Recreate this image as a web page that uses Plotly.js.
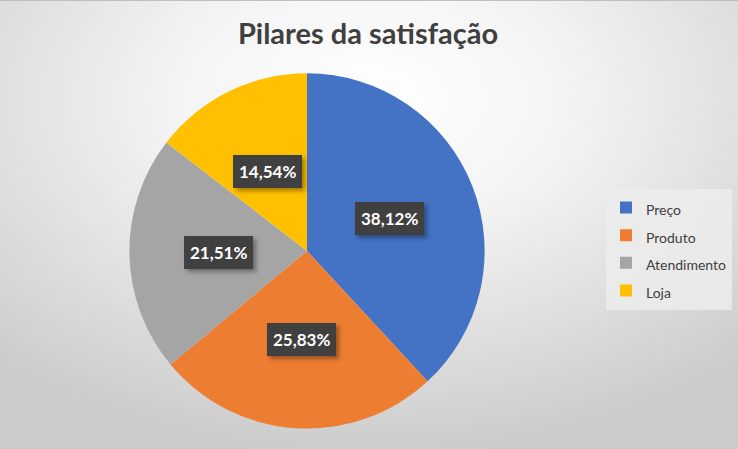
<!DOCTYPE html>
<html>
<head>
<meta charset="utf-8">
<script src="https://cdn.plot.ly/plotly-3.0.1.min.js"></script>
<style>
  html, body { margin: 0; padding: 0; }
  #chart {
    width: 738px; height: 449px; box-sizing: border-box;
    border-top: 1px solid #bfbfbf;
    background: radial-gradient(ellipse 75% 80% at 50% 22%, #ffffff 0%, #f4f4f4 35%, #dedede 70%, #cbcbcb 100%);
  }
  #chart g.annotation rect.bg { filter: drop-shadow(3px 3px 2px rgba(0,0,0,0.35)); }
</style>
</head>
<body>
<div id="chart"></div>
<script>
const categories = ['Preço', 'Produto', 'Atendimento', 'Loja'];
const values = [38.12, 25.83, 21.51, 14.54];
const colors = ['#4472C4', '#ED7D31', '#A5A5A5', '#FFC000'];
const chartTitle = 'Pilares da satisfação';

const W = 738, H = 449;
const cx = 307, cy = 250.5, R = 178;
const labR = 89;
const fontFam = 'Lato, "Open Sans", sans-serif';

const total = values.reduce((a, b) => a + b, 0);
const annotations = [];
let cum = 0;
values.forEach((v, i) => {
  const mid = (cum + v / 2) / total * 2 * Math.PI;
  cum += v;
  const txt = (v / total * 100).toFixed(2).replace('.', ',') + '%';
  annotations.push({
    xref: 'paper', yref: 'paper', x: cx / W, y: 1 - cy / H,
    xshift: Math.sin(mid) * labR, yshift: Math.cos(mid) * labR,
    showarrow: false, borderpad: 6, borderwidth: 0, bgcolor: '#404040',
    font: { family: fontFam, size: 17, color: '#ffffff' },
    text: '<b>' + txt + '</b>'
  });
});

const data = [{
  type: 'pie',
  labels: categories.map(c => '<span style="font-size:14px">' + c + '</span>'),
  values: values,
  sort: false,
  direction: 'clockwise',
  rotation: 0,
  marker: { colors: colors, line: { width: 0 } },
  textinfo: 'none',
  hoverinfo: 'none',
  domain: { x: [(cx - R) / W, (cx + R) / W], y: [1 - (cy + R) / H, 1 - (cy - R) / H] }
}];

const layout = {
  width: W, height: H - 1,
  margin: { l: 0, r: 0, t: 0, b: 0 },
  paper_bgcolor: 'rgba(0,0,0,0)',
  plot_bgcolor: 'rgba(0,0,0,0)',
  title: {
    text: '<b>' + chartTitle + '</b>',
    font: { family: fontFam, size: 29, color: '#404040' },
    x: 368 / W, xanchor: 'center', xref: 'container',
    y: 1 - 33 / H, yanchor: 'middle', yref: 'container'
  },
  showlegend: true,
  legend: {
    x: 606 / W, xanchor: 'left',
    y: 1 - 188 / H, yanchor: 'top',
    bgcolor: 'rgba(236,236,236,0.85)',
    borderwidth: 0,
    font: { family: fontFam, size: 19, color: '#404040' },
    traceorder: 'normal'
  },
  annotations: annotations
};

Plotly.newPlot('chart', data, layout, { displayModeBar: false, staticPlot: true });
</script>
</body>
</html>
